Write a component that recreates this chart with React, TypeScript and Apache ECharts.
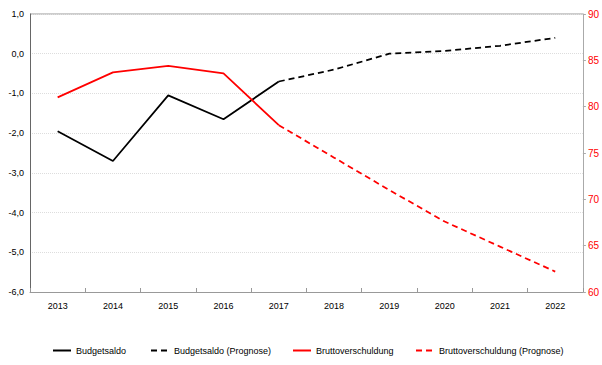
import React, { useEffect, useRef } from "react";
import * as echarts from "echarts";

const years = ["2013", "2014", "2015", "2016", "2017", "2018", "2019", "2020", "2021", "2022"];
const budgetsaldo = [-1.95, -2.7, -1.05, -1.65, -0.7, null, null, null, null, null];
const budgetsaldoPrognose = [null, null, null, null, -0.7, -0.4, 0.0, 0.07, 0.2, 0.4];
const brutto = [81.0, 83.7, 84.4, 83.6, 78.0, null, null, null, null, null];
const bruttoPrognose = [null, null, null, null, 78.0, 74.5, 71.0, 67.6, 64.9, 62.2];

const FONT = "Liberation Sans";

export default function App() {
  const ref = useRef<HTMLDivElement>(null);
  useEffect(() => {
    if (!ref.current) return;
    const chart = echarts.init(ref.current, undefined, { renderer: "svg" });
    const legendBase = {
      top: 341,
      itemWidth: 18,
      itemHeight: 10,
      itemGap: 4,
      itemStyle: { opacity: 0 },
      textStyle: { fontFamily: FONT, fontSize: 9, color: "#000" },
    };
    chart.setOption({
      animation: false,
      grid: { left: 30, right: 19, top: 14, bottom: 73, containLabel: false },
      legend: [
        { ...legendBase, left: 47, data: ["Budgetsaldo"] },
        { ...legendBase, left: 145, data: ["Budgetsaldo (Prognose)"] },
        { ...legendBase, left: 287, data: ["Bruttoverschuldung"] },
        { ...legendBase, left: 410, data: ["Bruttoverschuldung (Prognose)"] },
      ],
      xAxis: {
        type: "category",
        data: years,
        boundaryGap: true,
        axisLine: { onZero: false, lineStyle: { color: "#999", width: 1 } },
        axisTick: { show: true, inside: true, length: 4, lineStyle: { color: "#999" } },
        axisLabel: { fontFamily: FONT, fontSize: 9, color: "#000", margin: 9 },
      },
      yAxis: [
        {
          type: "value",
          min: -6,
          max: 1,
          interval: 1,
          axisLine: { show: true, lineStyle: { color: "#666" } },
          axisTick: { show: false },
          axisLabel: {
            fontFamily: FONT,
            fontSize: 9,
            color: "#000",
            margin: 6,
            formatter: (v: number) => v.toFixed(1).replace(".", ","),
          },
          splitLine: { show: true, lineStyle: { color: "#ddd", type: "dotted", width: 1 } },
        },
        {
          type: "value",
          min: 60,
          max: 90,
          interval: 5,
          position: "right",
          axisLine: { show: true, lineStyle: { color: "#aaa" } },
          axisTick: { show: true, length: 3, lineStyle: { color: "#aaa" } },
          axisLabel: { fontFamily: FONT, fontSize: 10, color: "#ff0000", margin: 5 },
          splitLine: { show: false },
        },
      ],
      series: [
        {
          name: "Budgetsaldo",
          type: "line",
          data: budgetsaldo,
          yAxisIndex: 0,
          symbol: "none",
          lineStyle: { color: "#000", width: 1.75 },
          itemStyle: { color: "#000" },
        },
        {
          name: "Budgetsaldo (Prognose)",
          type: "line",
          data: budgetsaldoPrognose,
          yAxisIndex: 0,
          symbol: "none",
          lineStyle: { color: "#000", width: 1.75, type: [6, 4] },
          itemStyle: { color: "#000" },
        },
        {
          name: "Bruttoverschuldung",
          type: "line",
          data: brutto,
          yAxisIndex: 1,
          symbol: "none",
          lineStyle: { color: "#ff0000", width: 1.75 },
          itemStyle: { color: "#ff0000" },
        },
        {
          name: "Bruttoverschuldung (Prognose)",
          type: "line",
          data: bruttoPrognose,
          yAxisIndex: 1,
          symbol: "none",
          lineStyle: { color: "#ff0000", width: 1.75, type: [6, 4] },
          itemStyle: { color: "#ff0000" },
        },
      ],
      graphic: [
        {
          type: "line",
          shape: { x1: 30, y1: 14, x2: 583, y2: 14 },
          style: { stroke: "#bbb", lineWidth: 1.5 },
        },
      ],
    });
    return () => chart.dispose();
  }, []);
  return (
    <div
      ref={ref}
      style={{ position: "fixed", left: 0, top: 0, width: 602, height: 365, background: "#fff" }}
    />
  );
}
